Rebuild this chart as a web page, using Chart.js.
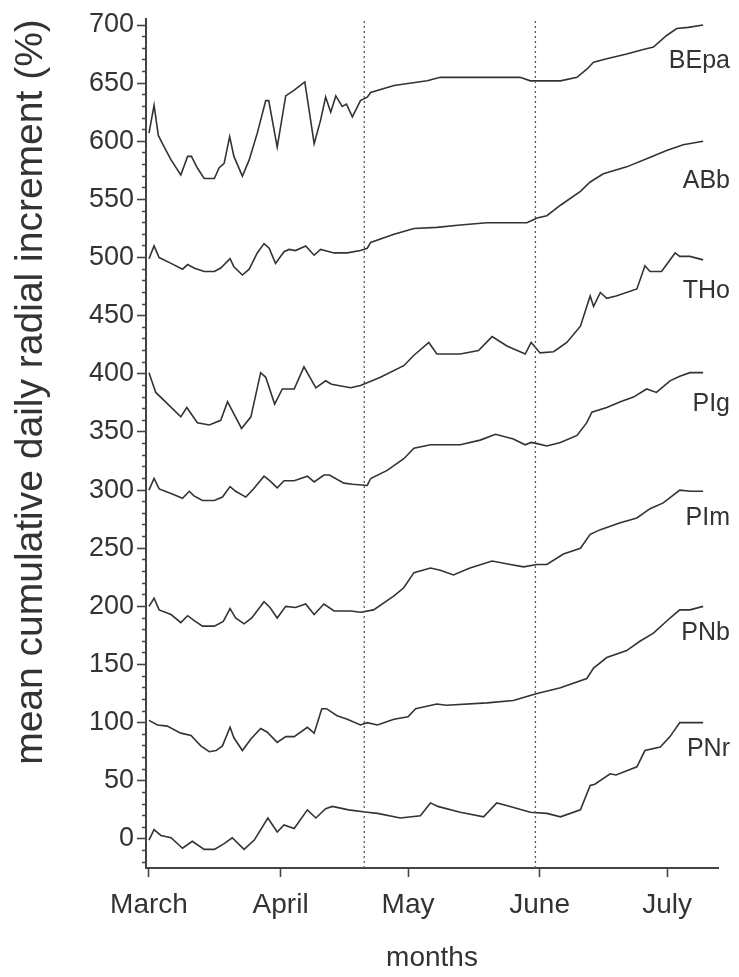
<!DOCTYPE html>
<html>
<head>
<meta charset="utf-8">
<script src="https://cdn.jsdelivr.net/npm/chart.js@4/dist/chart.umd.min.js"></script>
<style>
html,body{margin:0;padding:0;background:#ffffff;}
canvas{display:block;}
</style>
</head>
<body>
<canvas id="c" width="739" height="977"></canvas>
<script>
// ---- data (x = days since 1 March, y = mean cumulative daily radial increment %) ----
const monthNames = ['March', 'April', 'May', 'June', 'July'];
const monthDays = [0, 31, 61, 92, 122];
const yTickLabels = [0, 50, 100, 150, 200, 250, 300, 350, 400, 450, 500, 550, 600, 650, 700];
const yMinorTicks = [-20, -10, 0, 10, 20, 30, 40, 50, 60, 70, 80, 90, 100, 110, 120, 130, 140, 150, 160, 170, 180, 190, 200, 210, 220, 230, 240, 250, 260, 270, 280, 290, 300, 310, 320, 330, 340, 350, 360, 370, 380, 390, 400, 410, 420, 430, 440, 450, 460, 470, 480, 490, 500, 510, 520, 530, 540, 550, 560, 570, 580, 590, 600, 610, 620, 630, 640, 650, 660, 670, 680, 690, 700];
const seriesNames = ['BEpa', 'ABb', 'THo', 'PIg', 'PIm', 'PNb', 'PNr'];
const labelValues = [669, 566, 471, 374, 276, 177, 77];
const markerDays = [50.7, 91];

const BEpa = [[0,607],[1.2,631],[2.2,605],[3.6,595],[5.2,584],[7.5,571],[9.1,587],[10,587],[11.4,577],[13,568],[15.4,568],[16.5,577],[17.7,581],[19,604],[20,587],[22,570],[23.6,584],[25.5,607],[27.5,635],[28.2,635],[30.2,595],[32.2,639],[34.2,644],[36.7,651],[38.9,598],[40.4,618],[41.6,638],[42.8,625],[44,639],[45.5,630],[46.5,632],[47.9,621],[49.8,635],[51.4,638],[52.2,642],[57.7,648],[65.5,652],[68.6,655],[79.6,655],[87.4,655],[89.8,652],[96.9,652],[100.8,655],[103.1,662],[104.7,668],[107.8,671],[112.5,675],[116.4,679],[118.8,681],[121.9,691],[124.3,697],[127,698],[130.5,700]];
const ABb = [[0,499],[1.2,510],[2.4,500],[5.2,495],[7.9,490],[9.1,494],[10.6,491],[13,488],[15.4,488],[16.9,491],[19.1,499],[20,492],[22,485],[23.6,490],[25.5,504],[27.1,512],[28.3,508],[29.8,495],[31.8,505],[33,507],[34.5,506],[36.9,510],[38.9,502],[40.4,507],[43.6,504],[46.7,504],[49.8,506],[51.4,508],[52.2,513],[57.7,520],[62.4,525],[67.8,526],[73.3,528],[79.6,530],[89,530],[91.4,534],[93.7,536],[96.9,545],[101.6,557],[103.9,565],[107,572],[112.5,578],[117.2,585],[121.9,592],[125.8,597],[130.5,600]];
const THo = [[0,401],[1.6,384],[3.6,377],[7.5,363],[8.9,371],[11.4,358],[14.2,356],[16.9,360],[18.5,376],[21.8,353],[24,363],[26.3,401],[27.5,397],[29.6,374],[31.4,387],[34.2,387],[36.5,406],[39.3,388],[41.6,394],[43,391],[47.5,388],[49.8,390],[54.5,397],[60,407],[62.4,416],[65.9,427],[67.8,417],[73.3,417],[77.6,420],[80.8,432],[84.3,424],[88.6,417],[90,427],[92.1,418],[95.3,419],[98.4,427],[101.6,441],[103.9,467],[104.7,458],[106.3,470],[107.8,465],[110,467],[114.9,473],[116.8,493],[118,488],[120.7,488],[123.9,504],[125,501],[127.4,501],[130.5,498]];
const PIg = [[0,300],[1.2,310],[2.4,301],[5.2,297],[7.9,293],[9.5,299],[10.6,295],[12.6,291],[15.4,291],[17.3,294],[19.1,303],[20.4,299],[22.8,294],[24.6,301],[27.1,312],[28.5,308],[30.2,302],[31.8,308],[34.2,308],[37.3,312],[38.9,307],[41.2,313],[42.5,313],[45.9,306],[48,305],[51.4,304],[52.2,310],[56.1,317],[60,327],[62.4,336],[66.3,339],[73.3,339],[78,343],[81.6,348],[85.8,344],[88.6,339],[90,341],[91.4,340],[93.7,338],[96.9,341],[100.8,347],[103.1,358],[104.3,367],[107.8,371],[111,376],[114.1,380],[117.2,387],[119.5,384],[122.7,394],[125,398],[127.4,401],[130.5,401]];
const PIm = [[0,200],[1.2,207],[2.4,197],[5.2,193],[7.5,186],[9.1,192],[10.6,188],[12.6,183],[15.4,183],[17.5,187],[19.1,198],[20.4,190],[22.4,185],[24.2,190],[27.1,204],[28.5,199],[30.2,190],[32.2,200],[34.5,199],[36.9,202],[38.9,193],[41.2,202],[43.6,196],[47.5,196],[49.8,195],[52.9,197],[57.7,209],[60,216],[62.4,229],[66.3,233],[68.6,231],[71.7,227],[75.6,233],[80.8,239],[85.1,236],[88.2,234],[91.4,236],[93.7,236],[97.6,245],[101.6,250],[103.9,262],[106.3,266],[111,272],[114.9,276],[118,284],[121.1,289],[125,300],[127.5,299],[130.5,299]];
const PNb = [[0,102],[2,98],[4.3,97],[7.5,91],[9.9,89],[12.2,80],[14.2,75],[15.8,76],[17.3,80],[19.1,96],[20,87],[22,76],[24,86],[26.3,95],[27.8,92],[30.2,83],[32.2,88],[34.2,88],[37.3,96],[38.9,91],[40.7,112],[41.8,112],[44.3,106],[46.7,103],[49.8,98],[51.4,100],[53.8,98],[57.7,103],[61,105],[62.8,112],[67.8,116],[70,115],[79.6,117],[85.8,119],[91.4,125],[96.9,130],[103.1,138],[104.7,147],[107.8,156],[112.5,162],[115.6,170],[118.8,177],[122.7,190],[125,197],[127.4,197],[130.5,200]];
const PNr = [[0,-1],[1.2,8],[2.8,3],[5.2,1],[7.9,-8],[10.2,-2],[13,-9],[15.4,-9],[17.7,-4],[19.6,1],[22.4,-9],[24.8,-1],[28,18],[30.2,6],[31.8,12],[34.2,9],[37.3,25],[39.3,18],[41.6,26],[43.2,28],[47,25],[51.4,23],[53.8,22],[59.2,18],[63.9,20],[66.3,31],[68,28],[73.3,23],[78.8,19],[81.9,31],[84,29],[89.8,23],[93.7,22],[96.9,19],[101.6,25],[103.9,46],[105,47],[108.6,56],[110,55],[114.9,62],[116.8,76],[120.4,79],[122.7,88],[125,100],[127.5,100],[130.5,100]];

const seriesData = [BEpa, ABb, THo, PIg, PIm, PNb, PNr];
const Y_MIN = -25, Y_MAX = 705, X_MIN = -0.7, X_MAX = 134;

// ---- chart ----
const FONT = '"Liberation Sans", Arial, Helvetica, sans-serif';
const INK = '#333333';

const datasets = [];
markerDays.forEach(d => {
  datasets.push({
    data: [{x: d, y: Y_MIN}, {x: d, y: Y_MAX}],
    borderColor: '#555555', borderWidth: 1.3, borderDash: [2, 3],
    pointRadius: 0, fill: false, tension: 0
  });
});
seriesData.forEach((s, i) => {
  datasets.push({
    label: seriesNames[i],
    data: s.map(p => ({x: p[0], y: p[1]})),
    borderColor: INK, borderWidth: 1.6,
    pointRadius: 0, fill: false, tension: 0
  });
});

const seriesLabelPlugin = {
  id: 'seriesLabels',
  afterDatasetsDraw(chart) {
    const {ctx, chartArea, scales} = chart;
    ctx.save();
    ctx.font = '25px ' + FONT;
    ctx.fillStyle = INK;
    ctx.textAlign = 'right';
    ctx.textBaseline = 'middle';
    seriesNames.forEach((n, i) => {
      ctx.fillText(n, chartArea.right + 12, scales.y.getPixelForValue(labelValues[i]));
    });
    ctx.restore();
  }
};

new Chart(document.getElementById('c'), {
  type: 'line',
  data: {datasets},
  plugins: [seriesLabelPlugin],
  options: {
    responsive: false,
    animation: false,
    layout: {padding: {top: 15, right: 21, left: 0, bottom: 0}},
    plugins: {legend: {display: false}, tooltip: {enabled: false}},
    scales: {
      x: {
        type: 'linear', min: X_MIN, max: X_MAX,
        afterBuildTicks: (s) => { s.ticks = monthDays.map(v => ({value: v})); },
        afterFit: (s) => { s.height = 109; },
        ticks: {
          autoSkip: false, maxRotation: 0, padding: 11,
          color: INK, font: {family: FONT, size: 28},
          callback: (v, i) => monthNames[i]
        },
        grid: {drawOnChartArea: false, tickLength: 9, tickColor: '#444', tickWidth: 1.6},
        border: {color: '#444', width: 2},
        title: {display: true, text: 'months', color: INK, font: {family: FONT, size: 28}, padding: {top: 0, bottom: 2}}
      },
      y: {
        type: 'linear', min: Y_MIN, max: Y_MAX,
        afterBuildTicks: (s) => { s.ticks = yMinorTicks.map(v => ({value: v})); },
        afterFit: (s) => { s.width = 146; },
        ticks: {
          autoSkip: false, padding: 3,
          color: INK, font: {family: FONT, size: 27},
          callback: (v) => yTickLabels.includes(v) ? String(v) : ''
        },
        grid: {
          drawOnChartArea: false, tickLength: 9, tickColor: '#444', tickWidth: 1.6,
          tickBorderDash: (ctx) => (ctx.tick && yTickLabels.includes(ctx.tick.value)) ? [] : [0, 5, 4, 100]
        },
        border: {color: '#444', width: 2},
        title: {display: true, align: 'end', text: 'mean cumulative daily radial increment (%)', color: INK, font: {family: FONT, size: 39}, padding: {top: 8, bottom: 0}}
      }
    }
  }
});
</script>
</body>
</html>
